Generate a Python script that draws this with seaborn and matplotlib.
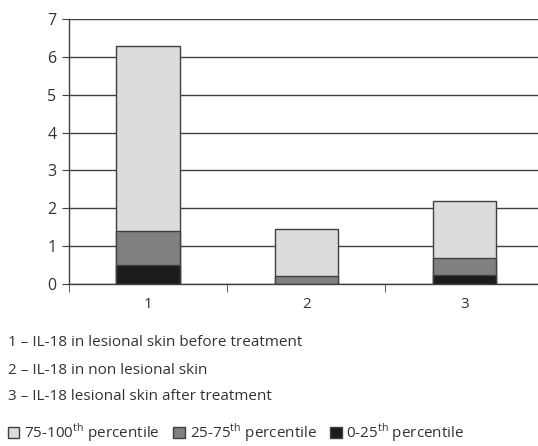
import matplotlib
matplotlib.use("Agg")
import matplotlib.pyplot as plt
import seaborn as sns
import pandas as pd
from matplotlib.patches import Patch

# data
groups = ["1", "2", "3"]
p0_25 = [0.5, 0.0, 0.25]
p25_75 = [0.9, 0.2, 0.45]
p75_100 = [4.9, 1.25, 1.5]

notes = [
    "1 – IL-18 in lesional skin before treatment",
    "2 – IL-18 in non lesional skin",
    "3 – IL-18 lesional skin after treatment",
]
legend_labels = [
    r"75-100$^{\mathrm{th}}$ percentile",
    r"25-75$^{\mathrm{th}}$ percentile",
    r"0-25$^{\mathrm{th}}$ percentile",
]
colors = ["#dcdcdc", "#808080", "#1c1c1c"]

sns.set_style("white")
plt.rcParams["font.family"] = ["Open Sans", "DejaVu Sans"]
plt.rcParams["mathtext.fontset"] = "custom"
plt.rcParams["mathtext.rm"] = "Open Sans"

df = pd.DataFrame({"group": groups, "low": p0_25, "mid": p25_75, "high": p75_100})
df["c_low"] = df["low"]
df["c_mid"] = df["low"] + df["mid"]
df["c_high"] = df["c_mid"] + df["high"]

fig = plt.figure(figsize=(5.38, 4.46), dpi=100)
ax = fig.add_axes([69 / 538, 1 - 284 / 446, 1 - 69 / 538 + 0.01, 265 / 446])

for col, c in zip(["c_high", "c_mid", "c_low"], colors):
    sns.barplot(data=df, x="group", y=col, color=c, width=0.4, ax=ax,
                edgecolor="#404040", linewidth=1.0, saturation=1, zorder=3)

ax.set_ylim(0, 7)
ax.set_xlim(-0.5, 2.5)
ax.set_yticks(range(0, 8))
ax.yaxis.grid(True, color="#404040", linewidth=1.0, zorder=0)
ax.set_axisbelow(True)
for s in ["top", "right"]:
    ax.spines[s].set_visible(False)
for s in ["left", "bottom"]:
    ax.spines[s].set_color("#404040")
    ax.spines[s].set_linewidth(1.0)
ax.set_xlabel("")
ax.set_ylabel("")
ax.tick_params(axis="y", left=True, length=5, color="#404040", labelsize=11.5, labelcolor="#333333", pad=4)
ax.set_xticks([0, 1, 2])
ax.set_xticklabels(groups)
ax.tick_params(axis="x", bottom=False, labelsize=11, labelcolor="#333333", pad=6)
ax.set_xticks([-0.5, 0.5, 1.5], minor=True)
ax.tick_params(axis="x", which="minor", bottom=True, length=6, color="#404040")

for i, t in enumerate(notes):
    fig.text(8 / 538, 1 - (343 + i * 27) / 446, t, fontsize=11, color="#333333", va="center")

handles = [Patch(facecolor=c, edgecolor="#404040", linewidth=1.0) for c in colors]
fig.legend(handles, legend_labels, loc="center left", bbox_to_anchor=(8 / 538, 1 - 433 / 446),
           ncol=3, frameon=False, fontsize=11, handlelength=0.75, handleheight=0.75,
           handletextpad=0.3, columnspacing=0.9, borderaxespad=0, borderpad=0,
           labelcolor="#333333")

fig.savefig("out.png", dpi=100)
